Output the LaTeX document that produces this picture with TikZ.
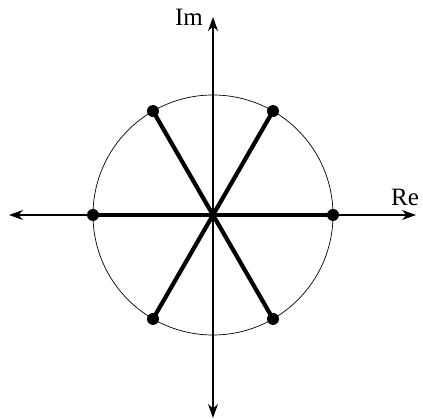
\documentclass[tikz,border=0pt]{standalone}
\usepackage{fontspec}
\setmainfont{Liberation Serif}
\usetikzlibrary{arrows.meta,calc}
\begin{document}
\begin{tikzpicture}[x=1pt,y=1pt,
  axis/.style={line width=1.2pt,{Stealth[length=14pt,width=10pt,inset=4.5pt]}-{Stealth[length=14pt,width=10pt,inset=4.5pt]}},
  spoke/.style={line width=4.2pt},
  dot/.style={circle,fill=black,inner sep=0pt,minimum size=12pt},
  lbl/.style={font=\fontsize{25}{28}\selectfont,inner sep=0pt}]
\useasboundingbox (0,0) rectangle (423,419);
\coordinate (O) at (213,204);
\draw[line width=0.7pt] (O) circle (120);
\coordinate (L) at (9,204);
\coordinate (R) at (416,204);
\coordinate (T) at (213,402);
\coordinate (B) at (213,1);
\draw[axis] (L) -- (R);
\draw[axis] (B) -- (T);
\foreach \a/\n in {0/p0,60/p1,120/p2,180/p3,240/p4,300/p5}{
  \node[dot] (\n) at ($(O)+(\a:120)$) {};
}
\foreach \n in {p0,p1,p2,p3,p4,p5}{
  \draw[spoke] (O) -- (\n.center);
}
\node[lbl,anchor=base east] (im) at (203,393) {Im};
\node[lbl,anchor=base west] (re) at (391,213) {Re};
\end{tikzpicture}
\end{document}
